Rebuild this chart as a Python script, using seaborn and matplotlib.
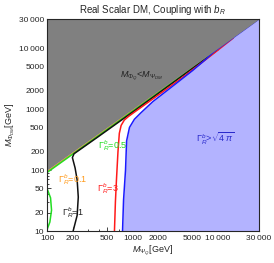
import pandas as pd
import seaborn as sns
import matplotlib
matplotlib.use("Agg")
from matplotlib import pyplot as plt
from matplotlib.ticker import FixedLocator, FixedFormatter, NullFormatter

# contour curves, masses in GeV
orange_x = [100, 300, 1000, 3000, 10000]
orange_y = [94, 283, 948, 2870, 9700]
green_low_x = [100, 108, 113, 110, 100]
green_low_y = [10.5, 14, 22, 35, 50]
green_x = [100, 300, 1000, 3000, 10000]
green_y = [91, 274, 920, 2810, 9600]
black_x = [202, 225, 232, 225, 213, 198, 207, 400, 1000, 3000, 10000]
black_y = [10, 18, 36, 69, 108, 160, 185, 355, 890, 2740, 9500]
red_x = [614, 630, 648, 675, 700, 735, 800, 900, 1050, 2000, 4000, 8000, 15000]
red_y = [10, 30, 69, 200, 400, 540, 660, 760, 890, 1700, 3450, 7300, 14600]
blue_x = [763, 784, 827, 851, 920, 1050, 1242, 1719, 3200, 5000, 7000, 9000, 30000]
blue_y = [10, 32, 100, 300, 500, 680, 860, 1320, 2600, 4250, 6350, 8800, 30000]

x_ticks = [100, 200, 500, 1000, 2000, 5000, 10000, 30000]
x_tick_labels = ["100", "200", "500", "1000", "2000", "5000", "10\u2009000", "30\u2009000"]
y_ticks = [10, 20, 50, 100, 200, 500, 1000, 2000, 5000, 10000, 30000]
y_tick_labels = ["10", "20", "50", "100", "200", "500", "1000", "2000", "5000",
                 "10\u2009000", "30\u2009000"]

curves = [
    ("0.1", "a", orange_x, orange_y),
    ("0.5", "b", green_low_x, green_low_y),
    ("0.5", "c", green_x, green_y),
    ("1", "d", black_x, black_y),
    ("3", "e", red_x, red_y),
    ("4pi", "f", blue_x, blue_y),
]
rows = []
for level, piece, xs, ys in curves:
    for i, (a, b) in enumerate(zip(xs, ys)):
        rows.append({"level": level, "piece": piece, "order": i, "M_Q": a, "M_DM": b})
df = pd.DataFrame(rows)

palette = {"0.1": "#ff9a1a", "0.5": "#22dd22", "1": "#111111", "3": "#ff1a1a", "4pi": "#1a1aff"}

sns.set_style("ticks")
plt.rcParams["font.family"] = ["Liberation Sans", "DejaVu Sans"]
plt.rcParams["mathtext.fontset"] = "custom"
plt.rcParams["mathtext.rm"] = "Liberation Sans"
plt.rcParams["mathtext.it"] = "Liberation Sans:italic"

fig = plt.figure(figsize=(2.74, 2.63), dpi=100)
ax = fig.add_axes([47 / 274, 32 / 263, 212 / 274, 212 / 263])
ax.set_xscale("log")
ax.set_yscale("log")
ax.set_xlim(100, 30000)
ax.set_ylim(10, 30000)

# excluded regions
ax.fill_betweenx(blue_y, blue_x, 30000, color="#b3b3ff", lw=0, zorder=1)
ax.fill_between([100, 30000], [100, 30000], 30000, color="#808080", lw=0, zorder=4)

sns.lineplot(data=df, x="M_Q", y="M_DM", hue="level", units="piece", estimator=None,
             sort=False, palette=palette, lw=1.1, legend=False, ax=ax, zorder=3)

ax.xaxis.set_major_locator(FixedLocator(x_ticks))
ax.xaxis.set_major_formatter(FixedFormatter(x_tick_labels))
ax.yaxis.set_major_locator(FixedLocator(y_ticks))
ax.yaxis.set_major_formatter(FixedFormatter(y_tick_labels))
minor_x = [v * m for v in [100, 1000, 10000] for m in range(1, 10)
           if 100 <= v * m <= 30000 and v * m not in x_ticks]
minor_y = [v * m for v in [10, 100, 1000, 10000] for m in range(1, 10)
           if 10 <= v * m <= 30000 and v * m not in y_ticks]
ax.xaxis.set_minor_locator(FixedLocator(minor_x))
ax.yaxis.set_minor_locator(FixedLocator(minor_y))
ax.xaxis.set_minor_formatter(NullFormatter())
ax.yaxis.set_minor_formatter(NullFormatter())
ax.tick_params(which="both", direction="in", top=True, right=True, labelsize=6,
               width=0.6)
ax.tick_params(axis="x", pad=3)
ax.tick_params(axis="y", pad=2)
ax.tick_params(which="major", length=3)
ax.tick_params(which="minor", length=1.6)
for s in ax.spines.values():
    s.set_linewidth(0.8)
    s.set_zorder(6)

ax.set_xlabel(r"$M_{\Psi_Q}$[GeV]", fontsize=6.5, labelpad=1)
ax.set_ylabel(r"$M_{\Phi_{DM}}$[GeV]", fontsize=6.5, labelpad=1)
ax.set_title(r"Real Scalar DM, Coupling with $b_R$", fontsize=7, pad=4)

fs = 6.5
ax.text(720, 3300, r"$M_{\Phi_Q}$<$M_{\Psi_{DM}}$", fontsize=fs, color="#222222", zorder=5)
ax.text(390, 225, r"$\Gamma^b_R$=0.5", fontsize=fs, color="#22dd22", zorder=5)
ax.text(135, 62, r"$\Gamma^b_R$=0.1", fontsize=fs, color="#ff9a1a", zorder=5)
ax.text(385, 44, r"$\Gamma^b_R$=3", fontsize=fs, color="#ff1a1a", zorder=5)
ax.text(150, 18, r"$\Gamma^b_R$=1", fontsize=fs, color="#222222", zorder=5)
ax.text(5500, 280, r"$\Gamma^b_R$>$\sqrt{4\,\pi}$", fontsize=fs, color="#2a2acc", zorder=5)

fig.savefig("out.png", dpi=100)
